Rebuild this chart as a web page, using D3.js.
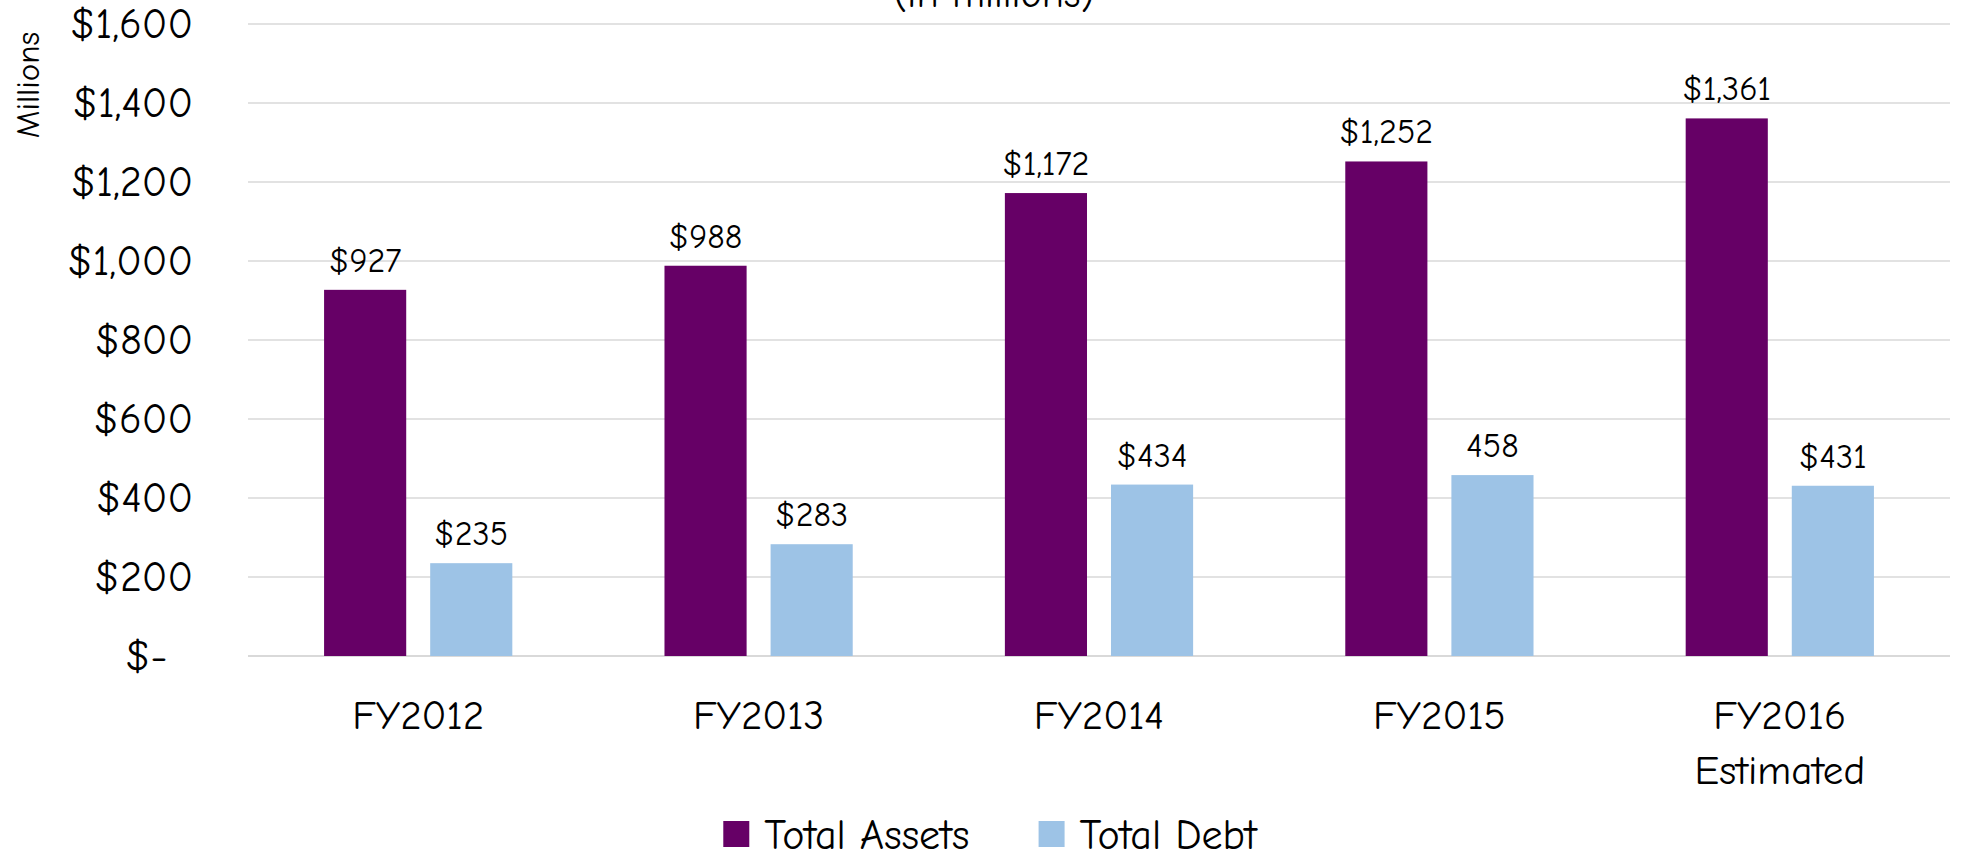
<!DOCTYPE html>
<html>
<head>
<meta charset="utf-8">
<script src="https://cdn.jsdelivr.net/npm/d3@7"></script>
<style>
    html, body { margin: 0; padding: 0; background: #fff; }
    svg { display: block; font-family: 'Comic Sans MS', 'Comic Neue', 'DejaVu Sans', sans-serif; }
</style>
</head>
<body>
<div id="chart"></div>
<script>
// 数据
const categories = ['FY2012', 'FY2013', 'FY2014', 'FY2015', 'FY2016\nEstimated'];
const seriesNames = ['Total Assets', 'Total Debt'];
const totalAssets = [927, 988, 1172, 1252, 1361];
const totalDebt = [235, 283, 434, 458, 431];
const debtLabels = ['$235', '$283', '$434', '458', '$431'];
const yTicks = [0, 200, 400, 600, 800, 1000, 1200, 1400, 1600];
const colors = ['#660066', '#9DC3E6'];

const W = 1961, H = 862;
const plot = { left: 248, right: 1950, top: 24, bottom: 656 };

const svg = d3.select('#chart').append('svg')
    .attr('width', W)
    .attr('height', H);

const x0 = d3.scaleBand()
    .domain(categories)
    .range([plot.left, plot.right])
    .paddingInner(0.447)
    .paddingOuter(0.2235);

const x1 = d3.scaleBand()
    .domain(seriesNames)
    .range([0, x0.bandwidth()])
    .paddingInner(0.226);

const y = d3.scaleLinear().domain([0, 1600]).range([plot.bottom, plot.top]);

// 网格
svg.append('g')
    .selectAll('line')
    .data(yTicks)
    .join('line')
    .attr('x1', plot.left).attr('x2', plot.right)
    .attr('y1', d => y(d)).attr('y2', d => y(d))
    .attr('stroke', '#d9d9d9')
    .attr('stroke-width', d => d === 0 ? 2 : 1.5);

// Y 轴
const yAxis = svg.append('g')
    .attr('transform', `translate(${plot.left},0)`)
    .call(d3.axisLeft(y).tickValues(yTicks).tickSize(0).tickPadding(55)
        .tickFormat(d => d === 0 ? '$-\u2007' : '$' + d3.format(',')(d)));
yAxis.attr('font-family', null).attr('font-size', null);
yAxis.select('.domain').remove();
yAxis.selectAll('text')
    .style('font-size', '42px')
    .style('fill', '#000');

// 柱
const rows = categories.map((c, i) => ({ cat: c, values: [totalAssets[i], totalDebt[i]], labels: ['$' + d3.format(',')(totalAssets[i]), debtLabels[i]] }));

const groups = svg.append('g')
    .selectAll('g')
    .data(rows)
    .join('g')
    .attr('transform', d => `translate(${x0(d.cat)},0)`);

groups.selectAll('rect')
    .data(d => d.values.map((v, k) => ({ key: seriesNames[k], v: v, k: k })))
    .join('rect')
    .attr('x', d => x1(d.key))
    .attr('width', x1.bandwidth())
    .attr('y', d => y(d.v))
    .attr('height', d => y(0) - y(d.v))
    .attr('fill', d => colors[d.k]);

groups.selectAll('text')
    .data(d => d.values.map((v, k) => ({ key: seriesNames[k], v: v, label: d.labels[k] })))
    .join('text')
    .attr('x', d => x1(d.key) + x1.bandwidth() / 2)
    .attr('y', d => y(d.v) - 18)
    .attr('text-anchor', 'middle')
    .style('font-size', '34px')
    .style('fill', '#000')
    .text(d => d.label);

// 类别标签
const catText = svg.append('g')
    .selectAll('text')
    .data(categories)
    .join('text')
    .attr('text-anchor', 'middle')
    .style('font-size', '41px')
    .style('fill', '#000');

catText.each(function (c) {
    const t = d3.select(this);
    c.split('\n').forEach((line, j) => {
        t.append('tspan')
            .attr('x', x0(c) + x0.bandwidth() / 2)
            .attr('y', 729 + j * 55)
            .text(line);
    });
});

// Y 轴标题
svg.append('text')
    .attr('transform', 'translate(39,85) rotate(-90)')
    .attr('text-anchor', 'middle')
    .style('font-size', '33px')
    .style('fill', '#000')
    .text('Millions');

// 标题 (被裁切)
svg.append('text')
    .attr('x', 994).attr('y', 7)
    .attr('text-anchor', 'middle')
    .style('font-size', '40px')
    .style('fill', '#000')
    .text('(in millions)');

// 图例
const legend = svg.append('g');
let lx = 0;
seriesNames.forEach((name, k) => {
    const item = legend.append('g').attr('transform', `translate(${lx},0)`);
    item.append('rect')
        .attr('x', 0).attr('y', -13)
        .attr('width', 26).attr('height', 26)
        .attr('fill', colors[k]);
    const txt = item.append('text')
        .attr('x', 41).attr('y', 0)
        .attr('dy', '0.35em')
        .style('font-size', '42px')
        .style('fill', '#000')
        .text(name);
    lx += 41 + txt.node().getComputedTextLength() + 69;
});
const lw = lx - 69;
legend.attr('transform', `translate(${990 - lw / 2},834)`);
</script>
</body>
</html>
